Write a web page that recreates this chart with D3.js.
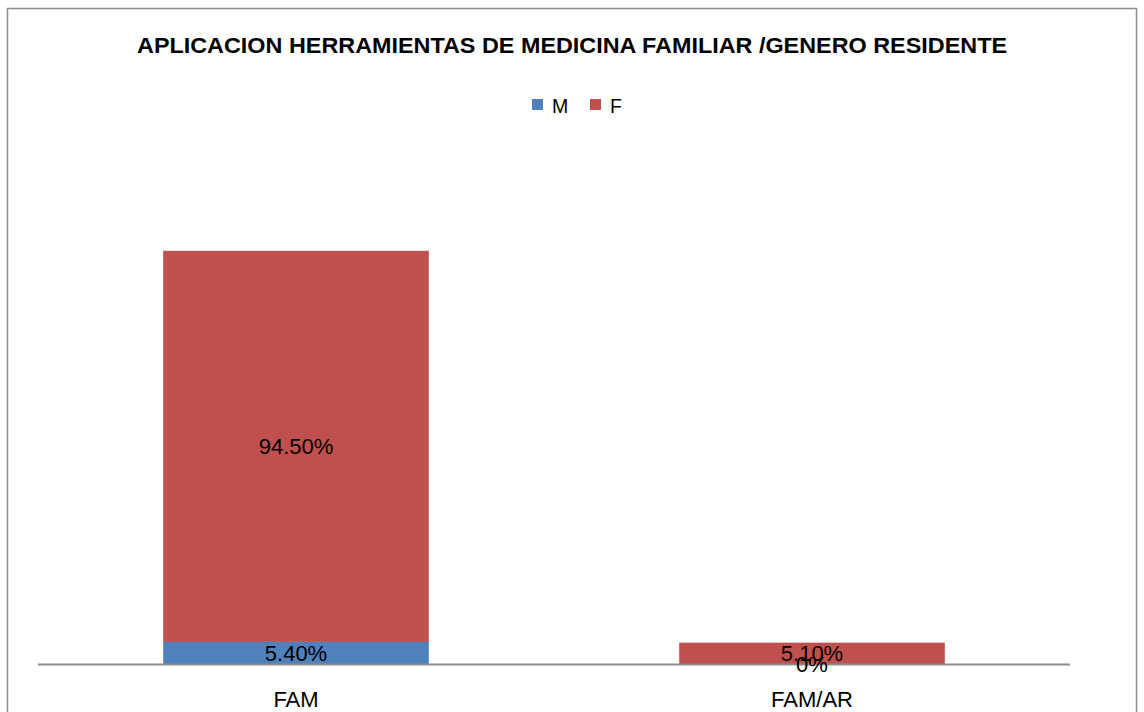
<!DOCTYPE html>
<html>
<head>
<meta charset="utf-8">
<script src="https://cdn.jsdelivr.net/npm/d3@7"></script>
<style>
	body { margin: 0; background: #fff; }
	text { font-family: "Liberation Sans", Arial, sans-serif; fill: #000; }
</style>
</head>
<body>
<script>
let categories = ['FAM', 'FAM/AR']
let seriesNames = ['M', 'F']
let valuesM = [5.4, 0]
let valuesF = [94.5, 5.1]
let labelsM = ['5.40%', '0%']
let labelsF = ['94.50%', '5.10%']
let colors = ['#4F81BD', '#C0504D']

let width = 1144, height = 712
let svg = d3.select('body').append('svg')
	.attr('width', width)
	.attr('height', height)

// marco exterior
svg.append('rect')
	.attr('x', 7.5).attr('y', 8.5)
	.attr('width', 1129).attr('height', 720)
	.attr('fill', 'none')
	.attr('stroke', '#8c8c8c')
	.attr('stroke-width', 1.5)

svg.append('text')
	.attr('x', 572).attr('y', 53)
	.attr('text-anchor', 'middle')
	.attr('font-size', 21.5)
	.attr('font-weight', 'bold')
	.attr('textLength', 870)
	.attr('lengthAdjust', 'spacingAndGlyphs')
	.text('APLICACION HERRAMIENTAS DE MEDICINA FAMILIAR /GENERO RESIDENTE')

// leyenda
let legendX = [532, 590]
let lg = svg.selectAll('.lg').data(seriesNames).join('g')
	.attr('transform', (d, i) => `translate(${legendX[i]},0)`)
lg.append('rect')
	.attr('y', 99).attr('width', 11).attr('height', 11)
	.attr('fill', (d, i) => colors[i])
lg.append('text')
	.attr('x', 20).attr('y', 113)
	.attr('font-size', 19.5)
	.text(d => d)

let x = d3.scaleBand().domain(categories).range([38, 1070])
	.paddingInner(0.486).paddingOuter(0.243)
let y = d3.scaleLinear().domain([0, 120]).range([664, 168])

let rows = categories.map((c, i) => ({ cat: c, M: valuesM[i], F: valuesF[i] }))
let stack = d3.stack().keys(seriesNames)(rows)

let layers = svg.selectAll('.layer').data(stack).join('g')
	.attr('fill', (d, i) => colors[i])
layers.selectAll('rect').data(d => d).join('rect')
	.attr('x', d => x(d.data.cat))
	.attr('width', x.bandwidth())
	.attr('y', d => y(d[1]))
	.attr('height', d => y(d[0]) - y(d[1]))
	.attr('stroke', (d, i, n) => d[1] > d[0] ? d3.select(n[i].parentNode).attr('fill') : 'none')
	.attr('stroke-opacity', 0.6)
	.attr('stroke-width', 0.8)

// eje
svg.append('line')
	.attr('x1', 38).attr('x2', 1070)
	.attr('y1', 664.5).attr('y2', 664.5)
	.attr('stroke', '#8c8c8c')
	.attr('stroke-width', 1.8)

// etiquetas de datos (encima de todas las barras)
let labels = [labelsF, labelsM]
let labelData = []
;[stack[1], stack[0]].forEach((s, k) => s.forEach((d, i) => labelData.push({ s: d, lab: labels[k][i] })))
svg.selectAll('.lbl').data(labelData).join('text')
	.attr('x', d => x(d.s.data.cat) + x.bandwidth() / 2)
	.attr('y', d => (y(d.s[0]) + y(d.s[1])) / 2 + 8)
	.attr('text-anchor', 'middle')
	.attr('font-size', 22)
	.text(d => d.lab)

svg.selectAll('.cat').data(categories).join('text')
	.attr('x', d => x(d) + x.bandwidth() / 2)
	.attr('y', 707)
	.attr('text-anchor', 'middle')
	.attr('font-size', 22)
	.text(d => d)
</script>
</body>
</html>
